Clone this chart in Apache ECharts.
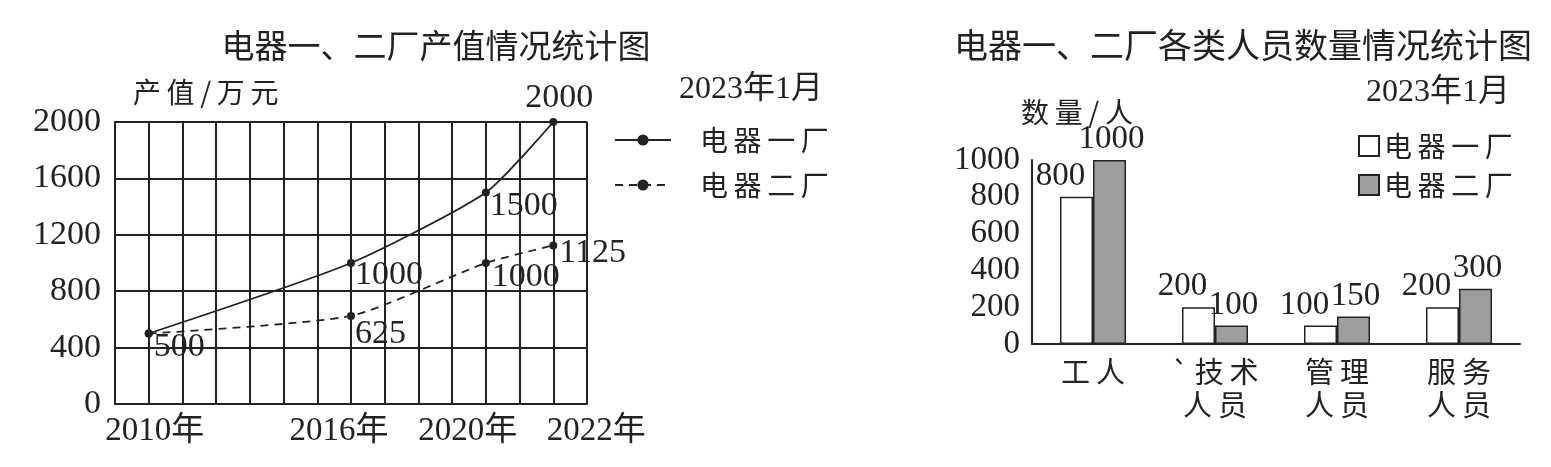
<!DOCTYPE html>
<html>
<head>
<meta charset="utf-8">
<title>电器一、二厂统计图</title>
<script src="https://cdn.jsdelivr.net/npm/echarts@6/dist/echarts.min.js"></script>
<style>
html,body{margin:0;padding:0;background:#fff;}
#main{width:1551px;height:467px;}
</style>
</head>
<body>
<div id="main"></div>
<script>
// 产值（万元）
var years = [2010, 2016, 2020, 2022];
var plant1Output = [500, 1000, 1500, 2000];
var plant2Output = [500, 625, 1000, 1125];
// 各类人员数量（人）
var staffTypes = ['工人', '`技术\n人员', '管理\n人员', '服务\n人员'];
var plant1Staff = [800, 200, 100, 200];
var plant2Staff = [1000, 100, 150, 300];
var plantNames = ['电器一厂', '电器二厂'];

var serif = '"Liberation Serif", "Noto Sans CJK SC", serif';
var cjk = '"Noto Sans CJK SC", sans-serif';
var ink = '#222';

// 标签位置（样式，不是数据）
var lbl1 = [
	{position: 'right', offset: [-4, 14]},
	{position: 'right', offset: [-5, 12]},
	{position: 'right', offset: [-5, 14]},
	{position: 'top', offset: [6, 2]}
];
var lbl2 = [
	{show: false},
	{position: 'right', offset: [-5, 18]},
	{position: 'right', offset: [-3, 14]},
	{position: 'right', distance: 2, offset: [0, 8]}
];
// x轴年份标签的左右微调
var yearShift = {2010: [0, 0, 0, 12], 2016: [0, 24, 0, 0], 2020: [0, 36, 0, 0], 2022: [0, 0, 0, 86]};

function spaced(s){
	return s.replace(/\u200b/g, '').split('').join('\u2009');
}

function plain(v){
	return String(v);
}

function pointData(vals, lbls){
	var arr = [];
	for(var i = 0; i < years.length; i++){
		arr.push({value: [years[i], vals[i]], label: lbls[i]});
	}
	return arr;
}

var chart = echarts.init(document.getElementById('main'));

var rich = {};
for(var k in yearShift){
	rich['y' + k] = {fontFamily: serif, fontSize: 33, color: ink, padding: yearShift[k]};
}

var option = {
	animation: false,
	backgroundColor: '#fff',
	title: [
		{text: '电器一、二厂产值情况统计图', left: 431, top: 22, textAlign: 'center',
			textStyle: {fontFamily: cjk, fontSize: 33, fontWeight: 'normal', color: ink, lineHeight: 36}},
		{text: '电器一、二厂各类人员数量情况统计图', left: 1238, top: 22, textAlign: 'center',
			textStyle: {fontFamily: cjk, fontSize: 34, fontWeight: 'normal', color: ink, lineHeight: 36}},
		{text: '2023年1月', left: 746, top: 69, textAlign: 'center',
			textStyle: {fontFamily: serif, fontSize: 32, fontWeight: 'normal', color: ink, lineHeight: 32}},
		{text: '2023年1月', left: 1433, top: 72, textAlign: 'center',
			textStyle: {fontFamily: serif, fontSize: 32, fontWeight: 'normal', color: ink, lineHeight: 32}}
	],
	legend: [
		{
			data: plantNames,
			orient: 'vertical', left: 609, top: 121,
			itemWidth: 56, itemHeight: 14, itemGap: 17,
			selectedMode: false,
			formatter: spaced,
			textStyle: {fontFamily: cjk, fontSize: 28, color: ink, lineHeight: 28, padding: [0, 0, 0, 24]}
		},
		{
			data: [plantNames[0] + '\u200b', plantNames[1] + '\u200b'],
			orient: 'vertical', left: 1353, top: 127,
			itemWidth: 20, itemHeight: 20, itemGap: 11, icon: 'rect',
			selectedMode: false,
			formatter: spaced,
			textStyle: {fontFamily: cjk, fontSize: 28, color: ink, lineHeight: 28, padding: [0, 0, 0, 0]}
		}
	],
	grid: [
		{left: 115, top: 122, width: 472, height: 282},
		{left: 1032, top: 160, width: 488, height: 184}
	],
	xAxis: [
		{
			gridIndex: 0, type: 'value', min: 2009, max: 2023, interval: 1,
			axisLine: {lineStyle: {color: ink, width: 2}},
			axisTick: {show: false},
			splitLine: {show: true, lineStyle: {color: ink, width: 2}},
			axisLabel: {
				margin: 11,
				formatter: function(v){
					return years.indexOf(v) > -1 ? '{y' + v + '|' + v + '年}' : '';
				},
				rich: rich
			}
		},
		{
			gridIndex: 1, type: 'category', data: staffTypes,
			axisLine: {lineStyle: {color: ink, width: 2}},
			axisTick: {show: false},
			axisLabel: {
				margin: 11, interval: 0,
				fontFamily: cjk, fontSize: 29, lineHeight: 33, color: ink,
				formatter: function(v){
					return v.split('\n').map(spaced).join('\n');
				}
			}
		}
	],
	yAxis: [
		{
			gridIndex: 0, type: 'value', min: 0, max: 2000, interval: 400,
			name: spaced('产值/万元'), nameLocation: 'end', nameGap: 30,
			nameTextStyle: {fontFamily: cjk, fontSize: 28, color: ink, align: 'left', verticalAlign: 'middle', padding: [0, 0, 0, 18]},
			axisLine: {show: true, lineStyle: {color: ink, width: 2}},
			axisTick: {show: false},
			splitLine: {show: true, lineStyle: {color: ink, width: 2}},
			axisLabel: {margin: 14, fontFamily: serif, fontSize: 34, color: ink, verticalAlign: 'middle', padding: [14, 0, 0, 0], formatter: plain}
		},
		{
			gridIndex: 1, type: 'value', min: 0, max: 1000, interval: 200,
			name: spaced('数量/人'), nameLocation: 'end', nameGap: 48,
			nameTextStyle: {fontFamily: cjk, fontSize: 28, color: ink, align: 'center', verticalAlign: 'middle', padding: [0, 0, 0, 90]},
			axisLine: {show: true, lineStyle: {color: ink, width: 2}},
			axisTick: {show: false},
			splitLine: {show: false},
			axisLabel: {margin: 12, fontFamily: serif, fontSize: 33, color: ink, padding: [7, 0, 0, 0], formatter: plain}
		}
	],
	series: [
		{
			name: plantNames[0], type: 'line', xAxisIndex: 0, yAxisIndex: 0,
			data: pointData(plant1Output, lbl1),
			smooth: 0.2,
			symbol: 'circle', symbolSize: 8,
			itemStyle: {color: ink},
			lineStyle: {color: ink, width: 1.8, type: 'solid'},
			label: {show: true, fontFamily: serif, fontSize: 34, color: ink,
				formatter: function(p){ return p.value[1]; }}
		},
		{
			name: plantNames[1], type: 'line', xAxisIndex: 0, yAxisIndex: 0,
			data: pointData(plant2Output, lbl2),
			smooth: 0.2,
			symbol: 'circle', symbolSize: 8,
			itemStyle: {color: ink},
			lineStyle: {color: ink, width: 1.8, type: [8, 6]},
			label: {show: true, fontFamily: serif, fontSize: 34, color: ink,
				formatter: function(p){ return p.value[1]; }}
		},
		{
			name: plantNames[0] + '\u200b', type: 'bar', xAxisIndex: 1, yAxisIndex: 1,
			data: plant1Staff,
			barWidth: 33, barGap: '0%',
			itemStyle: {color: '#fff', borderColor: ink, borderWidth: 1.5},
			label: {show: true, position: 'top', distance: 4, offset: [-16, 0],
				fontFamily: serif, fontSize: 33, color: ink}
		},
		{
			name: plantNames[1] + '\u200b', type: 'bar', xAxisIndex: 1, yAxisIndex: 1,
			data: plant2Staff,
			barWidth: 33, barGap: '0%',
			itemStyle: {color: '#9d9d9d', borderColor: ink, borderWidth: 1.5},
			label: {show: true, position: 'top', distance: 4, offset: [2, 0],
				fontFamily: serif, fontSize: 33, color: ink}
		}
	]
};

chart.setOption(option);
</script>
</body>
</html>
